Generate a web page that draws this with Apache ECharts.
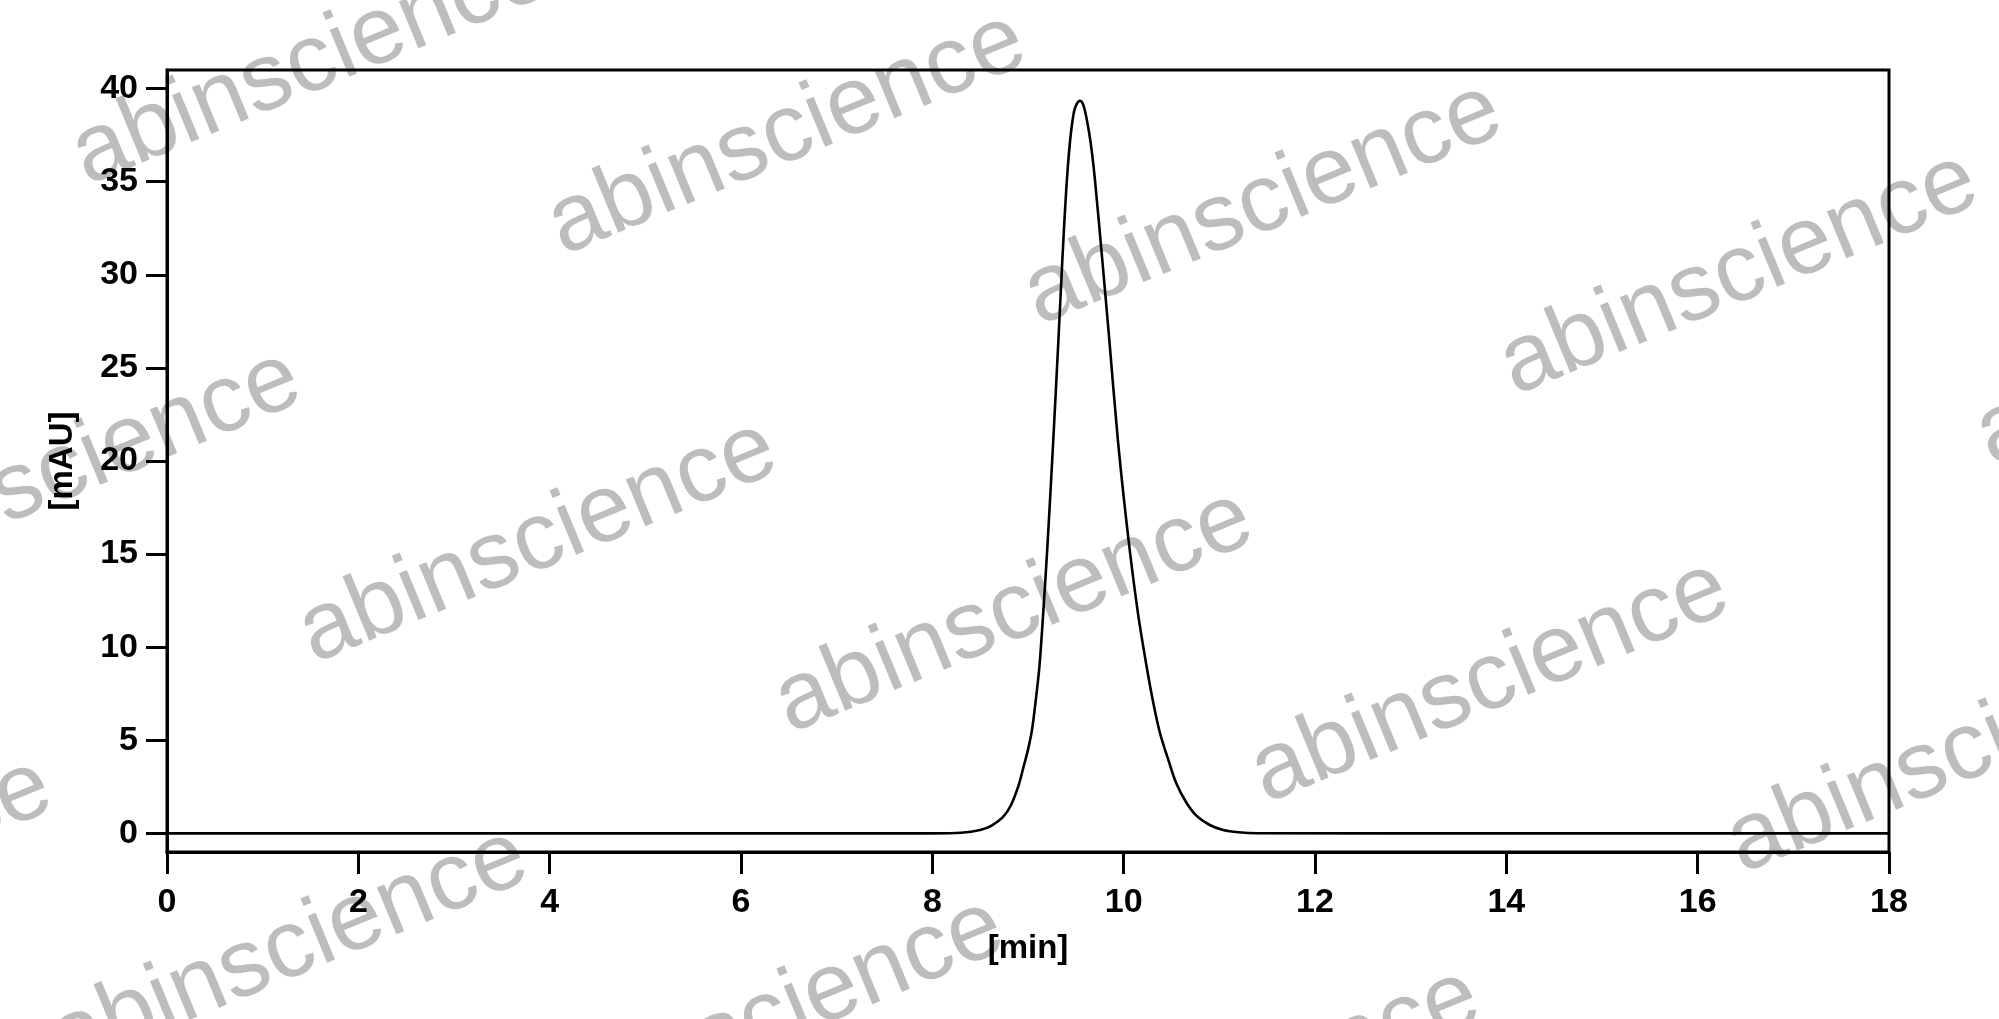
<!DOCTYPE html>
<html>
<head>
<meta charset="utf-8">
<script src="https://cdn.jsdelivr.net/npm/echarts@6/dist/echarts.min.js"></script>
<style>
html,body{margin:0;padding:0;background:#fff;}
#chart{width:1999px;height:1019px;}
</style>
</head>
<body>
<div id="chart"></div>
<script>
// Retention time [min]
const timeMin = [0, 4, 8.0, 8.3, 8.5, 8.62, 8.74, 8.82, 8.90, 8.96, 9.00, 9.04, 9.08, 9.12, 9.16, 9.205, 9.264, 9.317, 9.36, 9.40, 9.44, 9.48, 9.51, 9.543, 9.57, 9.60, 9.64, 9.67, 9.70, 9.78, 9.85, 9.94, 10.05, 10.15, 10.24, 10.31, 10.38, 10.47, 10.55, 10.65, 10.76, 10.9, 11.04, 11.2, 11.4, 14, 18];
// Absorbance [mAU]
const absorbance = [0, 0, 0, 0.03, 0.18, 0.42, 0.89, 1.5, 2.55, 3.7, 4.5, 5.5, 7.1, 9.0, 11.9, 15.6, 21.1, 26.4, 30.9, 34.6, 37.2, 38.75, 39.18, 39.34, 39.23, 38.7, 37.6, 36.5, 35.1, 30.6, 26.5, 21.1, 15.8, 11.8, 8.96, 7.0, 5.38, 3.9, 2.69, 1.7, 0.95, 0.45, 0.18, 0.06, 0.01, 0, 0];
const yTickValues = [0, 5, 10, 15, 20, 25, 30, 35, 40];
const xTickValues = [0, 2, 4, 6, 8, 10, 12, 14, 16, 18];
const watermarkText = 'abinscience';

const chart = echarts.init(document.getElementById('chart'));

// watermark lattice
const wm = [];
const ox = 787, oy = 134, ux = 476, uy = 70, vx = -249, vy = 408;
for (let j = -1; j <= 3; j++) {
  for (let i = -2; i <= 4; i++) {
    const cx = ox + i * ux + j * vx, cy = oy + i * uy + j * vy;
    if (cx < -400 || cx > 2400 || cy < -250 || cy > 1270) continue;
    wm.push({
      type: 'text', x: cx, y: cy, rotation: 22.5 * Math.PI / 180, z: 0, silent: true,
      style: { text: watermarkText, fill: '#bdbdbd', font: '96px "Liberation Sans", Arial, sans-serif', align: 'center', verticalAlign: 'middle' }
    });
  }
}

const txt = { color: '#000', fontFamily: '"Liberation Sans", Arial, sans-serif', fontWeight: 'bold', fontSize: 34 };

chart.setOption({
  animation: false,
  backgroundColor: '#fff',
  graphic: wm,
  grid: { left: 167, right: 110, top: 70, bottom: 167, show: true, borderColor: '#000', borderWidth: 3, z: 3 },
  xAxis: {
    type: 'value', min: 0, max: 18, interval: 2,
    name: '[min]', nameLocation: 'middle', nameGap: 80,
    nameTextStyle: Object.assign({}, txt, { fontSize: 33 }),
    axisLine: { show: true, onZero: false, lineStyle: { color: '#000', width: 3 } },
    axisTick: { show: true, inside: false, length: 22, lineStyle: { color: '#000', width: 3 }, customValues: xTickValues },
    axisLabel: Object.assign({ margin: 34, customValues: xTickValues }, txt),
    splitLine: { show: false }
  },
  yAxis: {
    type: 'value', min: -1, max: 41,
    name: '[mAU]', nameLocation: 'middle', nameRotate: 90, nameGap: 88,
    nameTextStyle: Object.assign({}, txt, { fontSize: 33 }),
    axisLine: { show: true, onZero: false, lineStyle: { color: '#000', width: 3 } },
    axisTick: { show: true, inside: false, length: 21, lineStyle: { color: '#000', width: 3 }, customValues: yTickValues },
    axisLabel: Object.assign({ margin: 29, customValues: yTickValues }, txt),
    splitLine: { show: false }
  },
  series: [{
    type: 'line',
    data: timeMin.map((t, k) => [t, absorbance[k]]),
    showSymbol: false,
    smooth: 0.3,
    z: 5,
    lineStyle: { color: '#000', width: 2.6 }
  }]
});
</script>
</body>
</html>
